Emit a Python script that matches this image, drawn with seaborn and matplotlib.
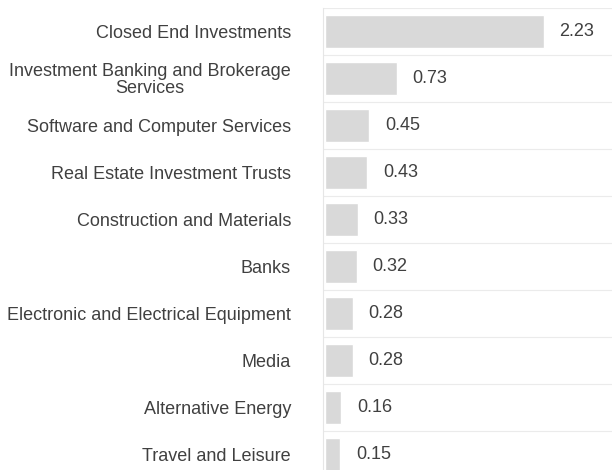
import numpy as np
import pandas as pd
import matplotlib
matplotlib.use("Agg")
import matplotlib.pyplot as plt
import seaborn as sns

sectors = [
    "Closed End Investments",
    "Investment Banking and Brokerage\nServices",
    "Software and Computer Services",
    "Real Estate Investment Trusts",
    "Construction and Materials",
    "Banks",
    "Electronic and Electrical Equipment",
    "Media",
    "Alternative Energy",
    "Travel and Leisure",
]
values = [2.23, 0.73, 0.45, 0.43, 0.33, 0.32, 0.28, 0.28, 0.16, 0.15]

sns.set_style("white")
plt.rcParams["font.family"] = ["Liberation Sans", "DejaVu Sans"]

df = pd.DataFrame({"sector": sectors, "value": values})

fig = plt.figure(figsize=(6.12, 4.70), dpi=100)
ax = fig.add_axes([323 / 612, 0, 1 - 323 / 612, 1 - 8 / 470])

sns.barplot(data=df, x="value", y="sector", orient="h", color="#d9d9d9",
            width=0.72, saturation=1, ax=ax)

# values next to the bars
ax.bar_label(ax.containers[0], labels=[f"{v:.2f}" for v in values],
             padding=11.5, fontsize=13, color="#404040")
for t in ax.texts:
    t.set_y(t.get_position()[1] + 0.02)

ax.set_xlim(-0.024, 2.93)
ax.set_ylim(9.33, -0.5)
ax.set_xlabel("")
ax.set_ylabel("")
ax.set_xticks([])

# category separators
ax.set_yticks(np.arange(-0.5, 9, 1), minor=True)
ax.grid(which="minor", axis="y", color="#ebebeb", linewidth=0.8)
ax.tick_params(axis="y", which="minor", length=6.5, color="#ebebeb", width=0.8)
ax.tick_params(axis="y", which="major", length=0, pad=23, labelsize=13,
               labelcolor="#404040")
for lbl in ax.get_yticklabels():
    lbl.set_multialignment("center")
    lbl.set_linespacing(0.95)

for side in ["top", "right", "bottom"]:
    ax.spines[side].set_visible(False)
ax.spines["left"].set_color("#e6e6e6")
ax.spines["left"].set_linewidth(0.8)

fig.savefig("out.png", dpi=100)
